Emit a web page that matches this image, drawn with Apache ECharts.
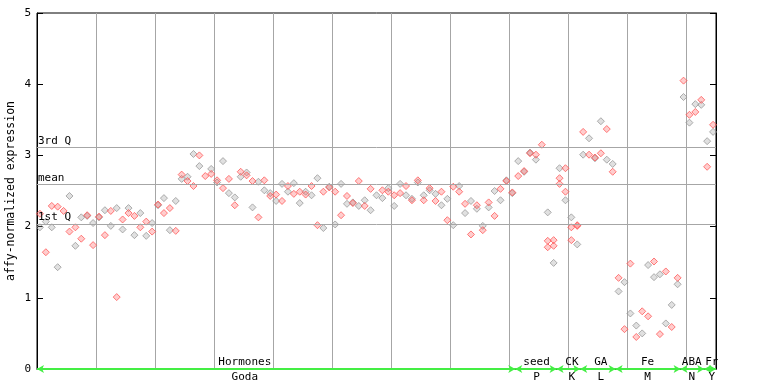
<!DOCTYPE html>
<html><head><meta charset="utf-8">
<script src="https://cdn.jsdelivr.net/npm/echarts@6/dist/echarts.min.js"></script>
<style>html,body{margin:0;padding:0;background:#fff}#c{width:768px;height:384px}</style>
</head><body><div id="c"></div>
<script>
// ---- data ----
const nColumns = 115;
const redVals = [2.18,1.64,2.29,2.28,2.22,1.93,1.99,1.83,2.16,1.74,
  2.14,1.88,2.22,1.01,2.10,2.19,2.15,1.99,2.07,1.93,
  2.31,2.19,2.26,1.94,2.73,2.64,2.57,3.00,2.71,2.74,
  2.65,2.54,2.67,2.30,2.77,2.72,2.64,2.13,2.65,2.43,
  2.45,2.36,2.57,2.46,2.49,2.45,2.57,2.02,2.49,2.55,
  2.49,2.16,2.43,2.33,2.64,2.29,2.53,null,2.51,2.49,
  2.44,2.47,2.57,2.37,2.65,2.37,2.54,2.36,2.49,2.09,
  2.56,2.49,2.32,1.89,2.30,1.95,2.34,2.15,2.53,2.64,
  2.48,2.71,2.78,3.03,3.01,3.15,1.80,1.81,2.60,2.82,
  1.81,2.02,3.33,3.01,2.97,3.03,3.37,2.77,1.28,0.56,
  1.48,0.45,0.81,0.74,1.51,0.49,1.37,0.59,1.28,4.05,
  3.57,3.61,3.78,2.84,3.43];
const grayVals = [1.99,2.07,1.99,1.43,null,2.43,1.73,2.13,2.15,2.05,
  2.13,2.23,2.01,2.26,1.96,2.26,1.88,2.19,1.87,2.05,
  2.30,2.40,1.95,2.36,2.67,2.70,3.02,2.85,null,2.81,
  2.62,2.92,2.47,2.41,2.70,2.76,2.27,2.63,2.51,2.47,
  2.36,2.60,2.49,2.61,2.33,2.49,2.44,2.68,1.98,2.56,
  2.03,2.60,2.32,2.34,2.29,2.37,2.23,2.44,2.40,2.54,
  2.29,2.60,2.44,2.39,2.62,2.44,2.51,2.46,2.30,2.39,
  2.02,2.57,2.19,2.36,2.25,2.01,2.27,2.50,2.37,2.65,
  2.47,2.92,2.77,3.04,2.94,null,2.20,1.49,2.82,2.37,
  2.13,1.75,3.01,3.24,2.96,3.48,2.94,2.88,1.09,1.22,
  0.78,0.61,0.50,1.46,1.29,1.33,0.64,0.90,1.19,3.82,
  3.46,3.72,3.71,3.20,3.33];
const extraCols = [86,87,88,89,90,91];
const extraVals = [1.71,1.73,2.68,2.49,1.99,2.01];
const qValues = [3.108, 2.587, 2.042];
const qLabels = ['3rd Q','mean','1st Q'];
const yTicks = [0,1,2,3,4,5];
const groupTop = ['Hormones','seed','CK','GA','Fe','ABA','Fr'];
const groupBottom = ['Goda','P','K','L','M','N','Y'];
const groupStart = [0,81,88,92,98,109,113];
const groupEnd = [81,88,92,98,109,113,115];
const groupLabelAt = [35.2,84.6,90.6,95.5,103.4,110.9,114.3];
const yName = 'affy-normalized expression';

// ---- build ----
const FONT = 'DejaVu Sans Mono';
const RED = '#ff5a5a', GRAY = '#9a9a9a';
function pts(vals){ const o=[]; vals.forEach((v,i)=>{ if(v!=null) o.push([i+0.5,v]); }); return o; }
const redPts = pts(redVals).concat(extraCols.map((c,k)=>[c+0.5, extraVals[k]]));
const grayPts = pts(grayVals);

const chart = echarts.init(document.getElementById('c'), null, {renderer:'canvas'});
chart.setOption({
  animation:false,
  backgroundColor:'#fff',
  grid:{left:37, right:52, top:13, bottom:15, containLabel:false, outerBoundsMode:'none',
    show:true, borderColor:'#000', borderWidth:1, backgroundColor:'transparent'},
  xAxis:{type:'value', min:0, max:nColumns, interval:10,
    axisLine:{show:true, lineStyle:{color:'#000', width:1}}, axisTick:{show:false}, axisLabel:{show:false},
    splitLine:{show:true, lineStyle:{color:'#a6a6a6', width:1}}},
  yAxis:[
    {type:'value', min:yTicks[0], max:yTicks[yTicks.length-1], interval:1, position:'left',
      name:yName, nameLocation:'middle', nameGap:20, nameMoveOverlap:false,
      nameTextStyle:{fontFamily:FONT, fontSize:11.5, color:'#000'},
      axisLine:{show:true, lineStyle:{color:'#000', width:1}},
      axisTick:{show:true, inside:true, length:6, lineStyle:{color:'#000'}},
      axisLabel:{show:true, margin:6, fontFamily:FONT, fontSize:11, color:'#000'},
      splitLine:{show:false}},
    {type:'value', min:yTicks[0], max:yTicks[yTicks.length-1], interval:1, position:'right',
      axisLine:{show:true, lineStyle:{color:'#000', width:1}},
      axisTick:{show:true, inside:true, length:6, lineStyle:{color:'#000'}},
      axisLabel:{show:false}, splitLine:{show:false}}
  ],
  series:[
    {type:'scatter', name:'quartiles', data:[], silent:true, z:1,
      markLine:{silent:true, symbol:'none', animation:false,
        lineStyle:{color:'#a6a6a6', width:1, type:'solid'},
        label:{show:true, position:'insideStartTop', distance:[1,1], fontFamily:FONT, fontSize:11, color:'#000',
          formatter:p=>qLabels[p.dataIndex]},
        data:qValues.map(v=>({yAxis:v}))}},
    {type:'scatter', name:'gray', data:grayPts, symbol:'diamond', symbolSize:7, z:3,
      itemStyle:{color:'rgba(154,154,154,0.38)', borderColor:GRAY, borderWidth:1}},
    {type:'scatter', name:'red', data:redPts, symbol:'diamond', symbolSize:7, z:4,
      itemStyle:{color:'rgba(255,90,90,0.38)', borderColor:RED, borderWidth:1}},
    {type:'scatter', name:'groups', data:[], silent:true, z:5,
      markLine:{silent:true, animation:false, symbol:['arrow','arrow'], symbolSize:[6,7],
        lineStyle:{color:'#44ee44', width:2, type:'solid'}, label:{show:false},
        data:groupStart.map((s,i)=>[{coord:[s,0]},{coord:[groupEnd[i],0]}])},
      markPoint:{silent:true, animation:false, symbol:'rect', symbolSize:0,
        label:{show:true, fontFamily:FONT, fontSize:11, color:'#000', formatter:p=>p.name},
        data:groupTop.map((n,i)=>({name:n, coord:[groupLabelAt[i],0], label:{offset:[0,-7]}}))
          .concat(groupBottom.map((n,i)=>({name:n, coord:[groupLabelAt[i],0], label:{offset:[0,8]}})))}}
  ]
});
</script></body></html>
